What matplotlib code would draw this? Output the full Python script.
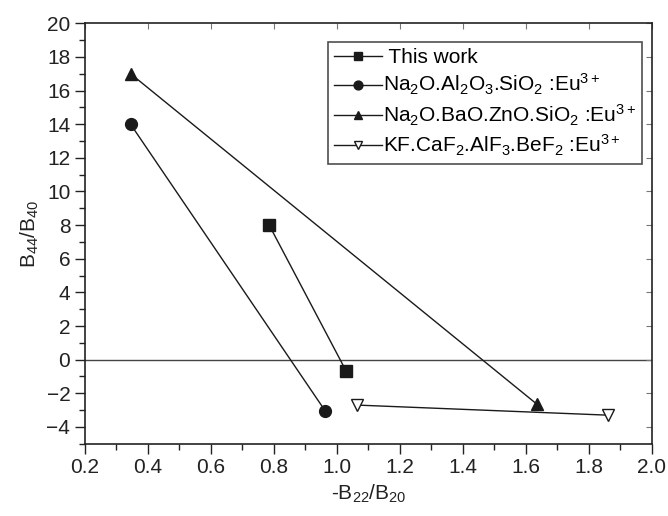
import matplotlib
matplotlib.use('Agg')
import matplotlib.pyplot as plt
from matplotlib.ticker import MultipleLocator

plt.rcParams['font.family'] = ['Liberation Sans', 'DejaVu Sans']
plt.rcParams['mathtext.fontset'] = 'custom'
plt.rcParams['mathtext.rm'] = 'Liberation Sans'
plt.rcParams['mathtext.it'] = 'Liberation Sans'

# valeurs
x_this = [0.785, 1.03]
y_this = [8.0, -0.7]
x_nas = [0.345, 0.963]
y_nas = [14.0, -3.05]
x_nbz = [0.345, 1.635]
y_nbz = [17.0, -2.65]
x_kf = [1.063, 1.86]
y_kf = [-2.7, -3.3]

labels = [
    ' This work',
    r'Na$_2$O.Al$_2$O$_3$.SiO$_2$ :Eu$^{3+}$',
    r'Na$_2$O.BaO.ZnO.SiO$_2$ :Eu$^{3+}$',
    r'KF.CaF$_2$.AlF$_3$.BeF$_2$ :Eu$^{3+}$',
]

fig = plt.figure(figsize=(6.68, 5.16), dpi=100)
ax = fig.add_axes([0.127, 0.140, 0.849, 0.815])

kw = dict(color='#1a1a1a', lw=1.0, ms=8.5)
ax.plot(x_this, y_this, marker='s', label=labels[0], **kw)
ax.plot(x_nas, y_nas, marker='o', label=labels[1], **kw)
ax.plot(x_nbz, y_nbz, marker='^', label=labels[2], **kw)
ax.plot(x_kf, y_kf, marker='v', mfc='white', label=labels[3], **kw)

ax.axhline(0, color='#444444', lw=1.0, zorder=0)

ax.set_xlim(0.2, 2.0)
ax.set_ylim(-5, 20)
ax.xaxis.set_major_locator(MultipleLocator(0.2))
ax.xaxis.set_minor_locator(MultipleLocator(0.1))
ax.yaxis.set_major_locator(MultipleLocator(2))
ax.yaxis.set_minor_locator(MultipleLocator(1))
ax.tick_params(which='both', direction='out', labelsize=15, colors='#222222')
ax.tick_params(which='major', length=7, width=1)
ax.tick_params(which='minor', length=4, width=1)
for s in ax.spines.values():
    s.set_color('#222222')
    s.set_linewidth(1.2)

# petits traits vers l'intérieur en haut et à droite
top = ax.secondary_xaxis('top')
top.xaxis.set_major_locator(MultipleLocator(0.2))
top.tick_params(direction='in', length=4, width=0.8, labeltop=False, colors='#777777')
top.spines['top'].set_visible(False)
right = ax.secondary_yaxis('right')
right.yaxis.set_major_locator(MultipleLocator(2))
right.tick_params(direction='in', length=4, width=0.8, labelright=False, colors='#777777')
right.spines['right'].set_visible(False)

ax.set_xlabel(r'-B$_{22}$/B$_{20}$', fontsize=15, color='#222222')
ax.set_ylabel(r'B$_{44}$/B$_{40}$', fontsize=15, color='#222222')

leg = ax.legend(loc='upper right', bbox_to_anchor=(0.983, 0.956), fontsize=15,
                frameon=True, fancybox=False, handlelength=2.3,
                handletextpad=0.05, borderpad=0.3, labelspacing=0.25,
                markerscale=0.75, borderaxespad=0)
leg._legend_box.sep = 4
leg.get_frame().set_edgecolor('#222222')
leg.get_frame().set_linewidth(1.2)

fig.savefig('out.png', dpi=100)
